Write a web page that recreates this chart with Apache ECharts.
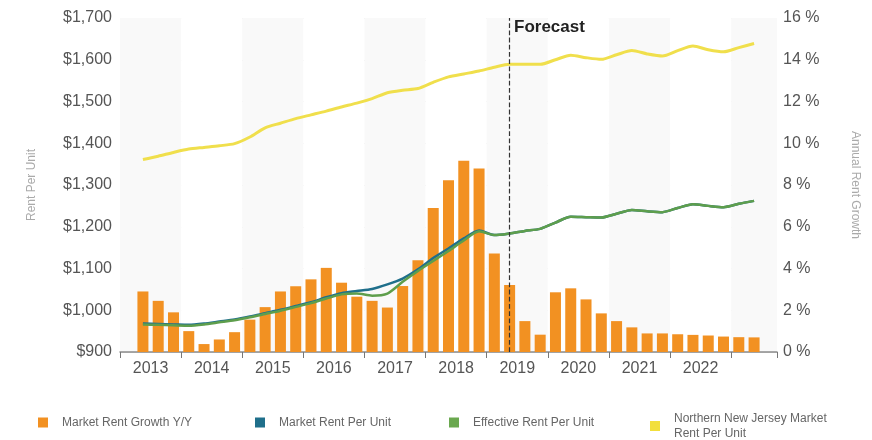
<!DOCTYPE html>
<html>
<head>
<meta charset="utf-8">
<style>
  html, body { margin: 0; padding: 0; background: #fff; }
  #chart { width: 872px; height: 440px; }
</style>
<script src="https://cdn.jsdelivr.net/npm/echarts@6/dist/echarts.min.js"></script>
</head>
<body>
<div id="chart"></div>
<script>
// quarters 2013 Q1 .. 2023 Q3 (first and last slot empty)
const years = ['2013', '2014', '2015', '2016', '2017', '2018', '2019', '2020', '2021', '2022', '2023'];
const yearLabels = ['2013', '2014', '2015', '2016', '2017', '2018', '2019', '2020', '2021', '2022'];

const quarters = [];
years.forEach((y) => {
  ['Q1', 'Q2', 'Q3', 'Q4'].forEach((q) => quarters.push(y + ' ' + q));
});
quarters.length = 43;

const forecastStart = '2019 Q2';

const rentGrowth = [
  null, 2.9, 2.45, 1.9, 1.0, 0.38, 0.6, 0.95, 1.55, 2.15, 2.9,
  3.15, 3.48, 4.03, 3.32, 2.65, 2.45, 2.13, 3.16, 4.4, 6.9,
  8.23, 9.16, 8.79, 4.72, 3.21, 1.48, 0.83, 2.86, 3.05, 2.52,
  1.85, 1.48, 1.18, 0.89, 0.89, 0.85, 0.82, 0.79, 0.74, 0.71,
  0.7, null,
];

const marketRent = [
  null, 968, 967, 966, 965, 968, 973, 978, 985, 993, 1001,
  1010, 1019, 1031, 1041, 1046, 1051, 1062, 1076, 1098, 1125,
  1148, 1172, 1191, 1180, 1184, 1190, 1195, 1210, 1224, 1223,
  1222, 1231, 1240, 1237, 1235, 1245, 1254, 1250, 1247, 1255,
  1262, null,
];

const effectiveRent = [
  null, 966, 965, 964, 963, 966, 971, 976, 983, 991, 999,
  1008, 1017, 1028, 1038, 1040, 1035, 1040, 1068, 1094, 1118,
  1142, 1167, 1189, 1180, 1184, 1190, 1195, 1210, 1224, 1223,
  1222, 1231, 1240, 1237, 1235, 1245, 1254, 1250, 1247, 1255,
  1262, null,
];

const marketWideRent = [
  null, 1361, 1369, 1378, 1386, 1390, 1394, 1399, 1415, 1437, 1448,
  1459, 1468, 1477, 1487, 1496, 1507, 1521, 1527, 1531, 1546,
  1559, 1566, 1573, 1582, 1589, 1589, 1589, 1600, 1611, 1605,
  1601, 1612, 1622, 1614, 1609, 1622, 1633, 1624, 1619, 1629,
  1639, null,
];

// year labels sit on the boundaries between quarters
const labelAxis = [];
for (let i = 0; i <= quarters.length; i++) {
  labelAxis.push(i % 4 === 2 ? (yearLabels[(i - 2) / 4] || '') : '');
}

const chart = echarts.init(document.getElementById('chart'));

const fontFamily = '"Liberation Sans", Arial, sans-serif';
const legendBase = {
  icon: 'rect',
  itemWidth: 10,
  itemHeight: 10,
  itemGap: 0,
  padding: 0,
  textStyle: { fontSize: 12, color: '#666', fontFamily, padding: [0, 0, 0, 9], lineHeight: 15 },
};

const option = {
  animation: false,
  textStyle: { fontFamily },
  grid: { left: 120, right: 95, top: 18, bottom: 88 },
  legend: [
    Object.assign({ left: 38, top: 415, data: ['Market Rent Growth Y/Y'] }, legendBase),
    Object.assign({ left: 255, top: 415, data: ['Market Rent Per Unit'] }, legendBase),
    Object.assign({ left: 449, top: 415, data: ['Effective Rent Per Unit'] }, legendBase),
    Object.assign({
      left: 650, top: 411, data: ['Northern New Jersey Market Rent Per Unit'],
      formatter: () => 'Northern New Jersey Market\nRent Per Unit',
    }, legendBase),
  ],
  graphic: [
    {
      type: 'text',
      left: 514,
      top: 19,
      z: 100,
      style: {
        text: 'Forecast',
        fontSize: 17,
        fontWeight: 'bold',
        fontFamily,
        fill: '#222',
      },
    },
  ],
  xAxis: [
    {
      type: 'category',
      data: quarters,
      boundaryGap: true,
      axisLine: { lineStyle: { color: '#8c8c8c', width: 1.5 } },
      axisTick: { show: true, interval: 3, length: 6, lineStyle: { color: '#777' } },
      axisLabel: { show: false },
      splitArea: { show: true, interval: 3, areaStyle: { color: ['#f9f9f9', '#ffffff'] } },
      splitLine: { show: false },
    },
    {
      type: 'category',
      data: labelAxis,
      boundaryGap: false,
      position: 'bottom',
      axisLine: { show: false },
      axisTick: { show: false },
      splitLine: { show: false },
      axisLabel: { interval: 0, fontSize: 16, color: '#555', margin: 9 },
    },
  ],
  yAxis: [
    {
      type: 'value',
      min: 900,
      max: 1700,
      interval: 100,
      name: 'Rent Per Unit',
      nameLocation: 'middle',
      nameGap: 82,
      nameTextStyle: { fontSize: 12, color: '#aaa' },
      axisLine: { show: false },
      axisTick: { show: false },
      axisLabel: {
        fontSize: 16,
        color: '#555',
        margin: 8,
        formatter: (v) => '$' + v.toLocaleString('en-US'),
      },
      splitLine: { lineStyle: { color: '#e4e4e4' } },
    },
    {
      type: 'value',
      min: 0,
      max: 16,
      interval: 2,
      name: 'Annual Rent Growth',
      nameLocation: 'middle',
      nameGap: 72,
      nameRotate: -90,
      nameTextStyle: { fontSize: 12, color: '#aaa' },
      axisLine: { show: false },
      axisTick: { show: false },
      axisLabel: { fontSize: 16, color: '#555', margin: 6, formatter: '{value} %' },
      splitLine: { show: false },
    },
  ],
  series: [
    {
      name: 'Market Rent Growth Y/Y',
      type: 'bar',
      xAxisIndex: 0,
      yAxisIndex: 1,
      data: rentGrowth,
      barWidth: '72%',
      itemStyle: { color: '#f29122' },
      markLine: {
        silent: true,
        symbol: 'none',
        label: { show: false },
        lineStyle: { type: 'dashed', color: '#333', width: 1.2 },
        data: [{ xAxis: forecastStart }],
      },
    },
    {
      name: 'Market Rent Per Unit',
      type: 'line',
      xAxisIndex: 0,
      yAxisIndex: 0,
      data: marketRent,
      smooth: 0.25,
      showSymbol: false,
      itemStyle: { color: '#1f6f8b' },
      lineStyle: { width: 2.5, color: '#1f6f8b' },
    },
    {
      name: 'Effective Rent Per Unit',
      type: 'line',
      xAxisIndex: 0,
      yAxisIndex: 0,
      data: effectiveRent,
      smooth: 0.25,
      showSymbol: false,
      itemStyle: { color: '#6aa84f' },
      lineStyle: { width: 2.5, color: '#5e9e4c' },
    },
    {
      name: 'Northern New Jersey Market Rent Per Unit',
      type: 'line',
      xAxisIndex: 0,
      yAxisIndex: 0,
      data: marketWideRent,
      smooth: 0.25,
      showSymbol: false,
      itemStyle: { color: '#f2df3c' },
      lineStyle: { width: 3, color: '#f0df4c' },
    },
  ],
};

chart.setOption(option);
window.addEventListener('resize', () => chart.resize());
</script>
</body>
</html>
